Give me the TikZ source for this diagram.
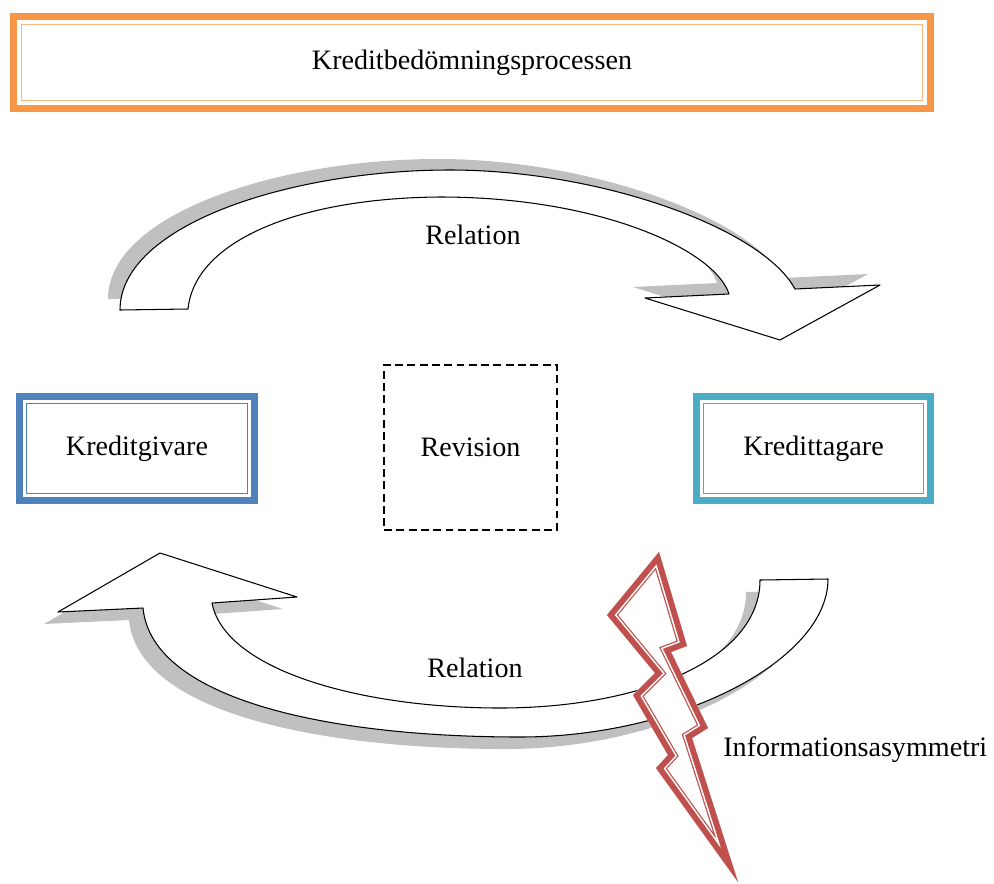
\documentclass[tikz,border=0pt]{standalone}
\usepackage{fontspec}
\setmainfont{Liberation Serif}
\usetikzlibrary{calc}
\definecolor{kgorange}{RGB}{247,150,70}
\definecolor{kgblue}{RGB}{79,129,189}
\definecolor{kgaqua}{RGB}{75,172,198}
\definecolor{kgred}{RGB}{192,80,77}
\definecolor{kgshadow}{RGB}{192,192,192}
\newcommand{\innerframe}[3]{\draw[#2,line width=0.8pt] ($(#1.north west)+(#3,#3)$) rectangle ($(#1.south east)-(#3,#3)$);}
\newcommand{\relupper}{(120,310) .. controls (120,225) and (290,170) .. (450,170)
  .. controls (600,170) and (762,228) .. (795,289)
  -- (880,285) -- (780,340) -- (645,298) -- (729,294)
  .. controls (715,250) and (600,197) .. (440,197)
  .. controls (300,198) and (195,240) .. (188,309) -- cycle}
\newcommand{\rellower}{(828,579) .. controls (828,660) and (680,737) .. (520,737)
  .. controls (330,737) and (152,700) .. (143,608)
  -- (58,612) -- (160,553) -- (297,597) -- (212,603)
  .. controls (225,670) and (360,708) .. (500,708)
  .. controls (640,708) and (760,660) .. (760,580) -- cycle}
\newcommand{\bolt}{(659,552) -- (687,646) -- (671,652) -- (708,728) -- (692,738) -- (738,882) -- (656,768) -- (668,755) -- (633,695) -- (655,673) -- (607,615) -- cycle}

\begin{document}
\begin{tikzpicture}[x=0.02cm,y=-0.02cm,font=\fontsize{16}{19}\selectfont,
  frame/.style={draw=#1,line width=3.7pt,fill=white,inner sep=0pt,outer sep=0pt},
  body/.style={draw=black,line width=0.6pt,fill=white,line join=round},
  shade/.style={fill=kgshadow}]
\useasboundingbox (0,0) rectangle (994,883);
% shadows first, then the two relation arrows
\fill[shade,shift={(-12,-11)}] \relupper;
\fill[shade,shift={(-14,12)}] \rellower;
\draw[body] \relupper;
\draw[body] \rellower;
\node (relTop) at (473,235) {Relation};
\node (relBot) at (475,668) {Relation};
% boxes
\node[frame=kgorange,line width=4pt,minimum width=18.34cm,minimum height=1.84cm] (title) at (472,62.5) {Kreditbedömningsprocessen};
\innerframe{title}{kgorange!70}{8}
\node[frame=kgblue,minimum width=4.71cm,minimum height=2.09cm] (giver) at (137,448.5) {Kreditgivare};
\innerframe{giver}{kgblue}{7.5}
\node[frame=kgaqua,minimum width=4.69cm,minimum height=2.09cm] (taker) at (813.5,448.5) {Kredittagare};
\innerframe{taker}{kgaqua}{7.5}
\node[draw,line width=0.7pt,dash pattern=on 4.5pt off 2.5pt,minimum width=3.46cm,minimum height=3.3cm] (revision) at (470.5,447.5) {Revision};
% lightning
\fill[white] \bolt;
\begin{scope}
 \clip \bolt;
 \draw[kgred,line width=9.8pt,line join=miter] \bolt;
 \draw[white,line width=8.4pt,line join=miter] \bolt;
 \draw[kgred,line width=6.6pt,line join=miter] \bolt;
\end{scope}
\node[anchor=west,inner sep=0pt] (asym) at (723,750) {Informationsasymmetri};
\end{tikzpicture}
\end{document}
